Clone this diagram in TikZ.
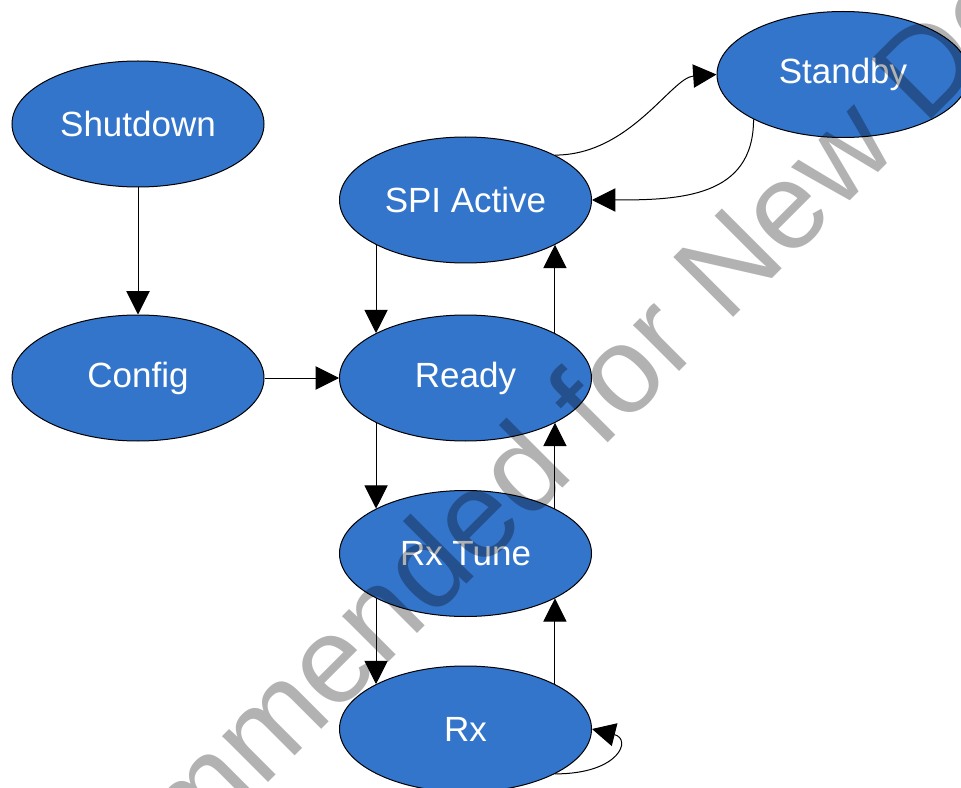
\documentclass[tikz,border=0pt]{standalone}
\usepackage{fontspec}
\setmainfont{Liberation Sans}
\usetikzlibrary{shapes.geometric,arrows.meta}
\definecolor{stateblue}{RGB}{52,117,204}
\begin{document}
\begin{tikzpicture}[x=0.75pt, y=-0.75pt,
    state/.style={ellipse, draw, fill=stateblue, text=white, line width=0.75pt,
      minimum width=189pt, minimum height=94.5pt, inner sep=0pt,
      font=\fontsize{26.25}{30}\selectfont},
    tr/.style={-{Triangle[length=17.5pt,width=17.5pt]}, line width=0.75pt}]
	\useasboundingbox (0,0) rectangle (961,788);
	\clip (0,0) rectangle (961,788);
	% states
	\node[state] (shut) at (138,124) {Shutdown};
	\node[state] (conf) at (138,378) {Config};
	\node[state] (spi) at (465.5,200) {SPI Active};
	\node[state] (rdy) at (465.5,378) {Ready};
	\node[state] (tune) at (465.5,553.5) {Rx Tune};
	\node[state] (rx) at (465.5,729) {Rx};
	\node[state] (stby) at (843,74.5) {Standby};
	% transitions
	\draw[tr] (shut) -- (conf);
	\draw[tr] (conf) -- (rdy);
	\draw[tr] (spi.south west) -- (rdy.north west);
	\draw[tr] (rdy.north east) -- (spi.south east);
	\draw[tr] (rdy.south west) -- (tune.north west);
	\draw[tr] (tune.north east) -- (rdy.south east);
	\draw[tr] (tune.south west) -- (rx.north west);
	\draw[tr] (rx.north east) -- (tune.south east);
	\draw[tr] (spi.north east) .. controls +(75,0) and +(-45,3) .. (stby.west);
	\draw[tr] (stby.south west) .. controls +(0,78) and +(88,0) .. (spi.east);
	\draw[tr] (rx.south east) .. controls +(65,0) and +(40,10) .. (rx.east);
	% watermark
	\node[rotate=45, anchor=base, inner sep=0pt, text=black, text opacity=0.3,
	  font=\fontsize{92.25}{100}\selectfont] (wm) at (533,518) {Not Recommended for New Designs};
\end{tikzpicture}
\end{document}
